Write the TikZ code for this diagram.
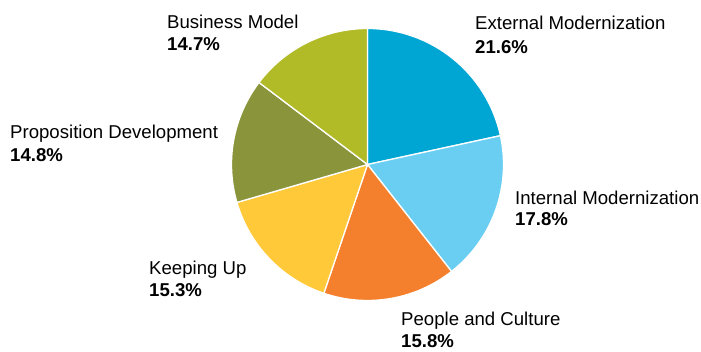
\documentclass[tikz,border=0pt]{standalone}
\usepackage{fontspec}
\setmainfont{Liberation Sans}
\usepackage{xcolor}
\usepackage{tikz}
\usetikzlibrary{positioning,calc}
\definecolor{extblue}{HTML}{00A6D3}
\definecolor{intblue}{HTML}{6ACEF2}
\definecolor{peopleorange}{HTML}{F47F2C}
\definecolor{keepyellow}{HTML}{FFC93A}
\definecolor{propolive}{HTML}{8A943B}
\definecolor{busgreen}{HTML}{B1BB27}

\begin{document}
\begin{tikzpicture}[x = 1pt, y = 1pt]
    \useasboundingbox (0,0) rectangle (701,352);
    \tikzset{slice/.style = {draw = white, line width = 1.3pt, line join = round},
             lbl/.style = {anchor = base west, inner sep = 0pt, font = \fontsize{18.6}{22}\selectfont},
             pct/.style = {lbl, font = \fontsize{18.6}{22}\selectfont\bfseries}}
    \coordinate (c) at (367.5,187.5);
    \def\r{136}
    \fill[extblue, slice] (c) -- ++(90:\r) arc (90:12.24:\r) -- cycle;
    \fill[intblue, slice] (c) -- ++(12.24:\r) arc (12.24:-51.84:\r) -- cycle;
    \fill[peopleorange, slice] (c) -- ++(-51.84:\r) arc (-51.84:-108.72:\r) -- cycle;
    \fill[keepyellow, slice] (c) -- ++(-108.72:\r) arc (-108.72:-163.8:\r) -- cycle;
    \fill[propolive, slice] (c) -- ++(-163.8:\r) arc (-163.8:-217.08:\r) -- cycle;
    \fill[busgreen, slice] (c) -- ++(-217.08:\r) arc (-217.08:-270:\r) -- cycle;
        % Labels
    \node[lbl] (ext) at (475,322) {External Modernization};
    \node[pct] (extp) at (475,298.7) {21.6\%};
    \node[lbl] (int) at (515,147.7) {Internal Modernization};
    \node[pct] (intp) at (515,126.3) {17.8\%};
    \node[lbl] (people) at (401,26) {People and Culture};
    \node[pct] (peoplep) at (401,4) {15.8\%};
    \node[lbl] (keep) at (149,77.7) {Keeping Up};
    \node[pct] (keepp) at (149,55.3) {15.3\%};
    \node[lbl] (prop) at (10,213) {Proposition Development};
    \node[pct] (propp) at (10,190) {14.8\%};
    \node[lbl] (bus) at (167,323) {Business Model};
    \node[pct] (busp) at (167,301) {14.7\%};
  \end{tikzpicture}
\end{document}
